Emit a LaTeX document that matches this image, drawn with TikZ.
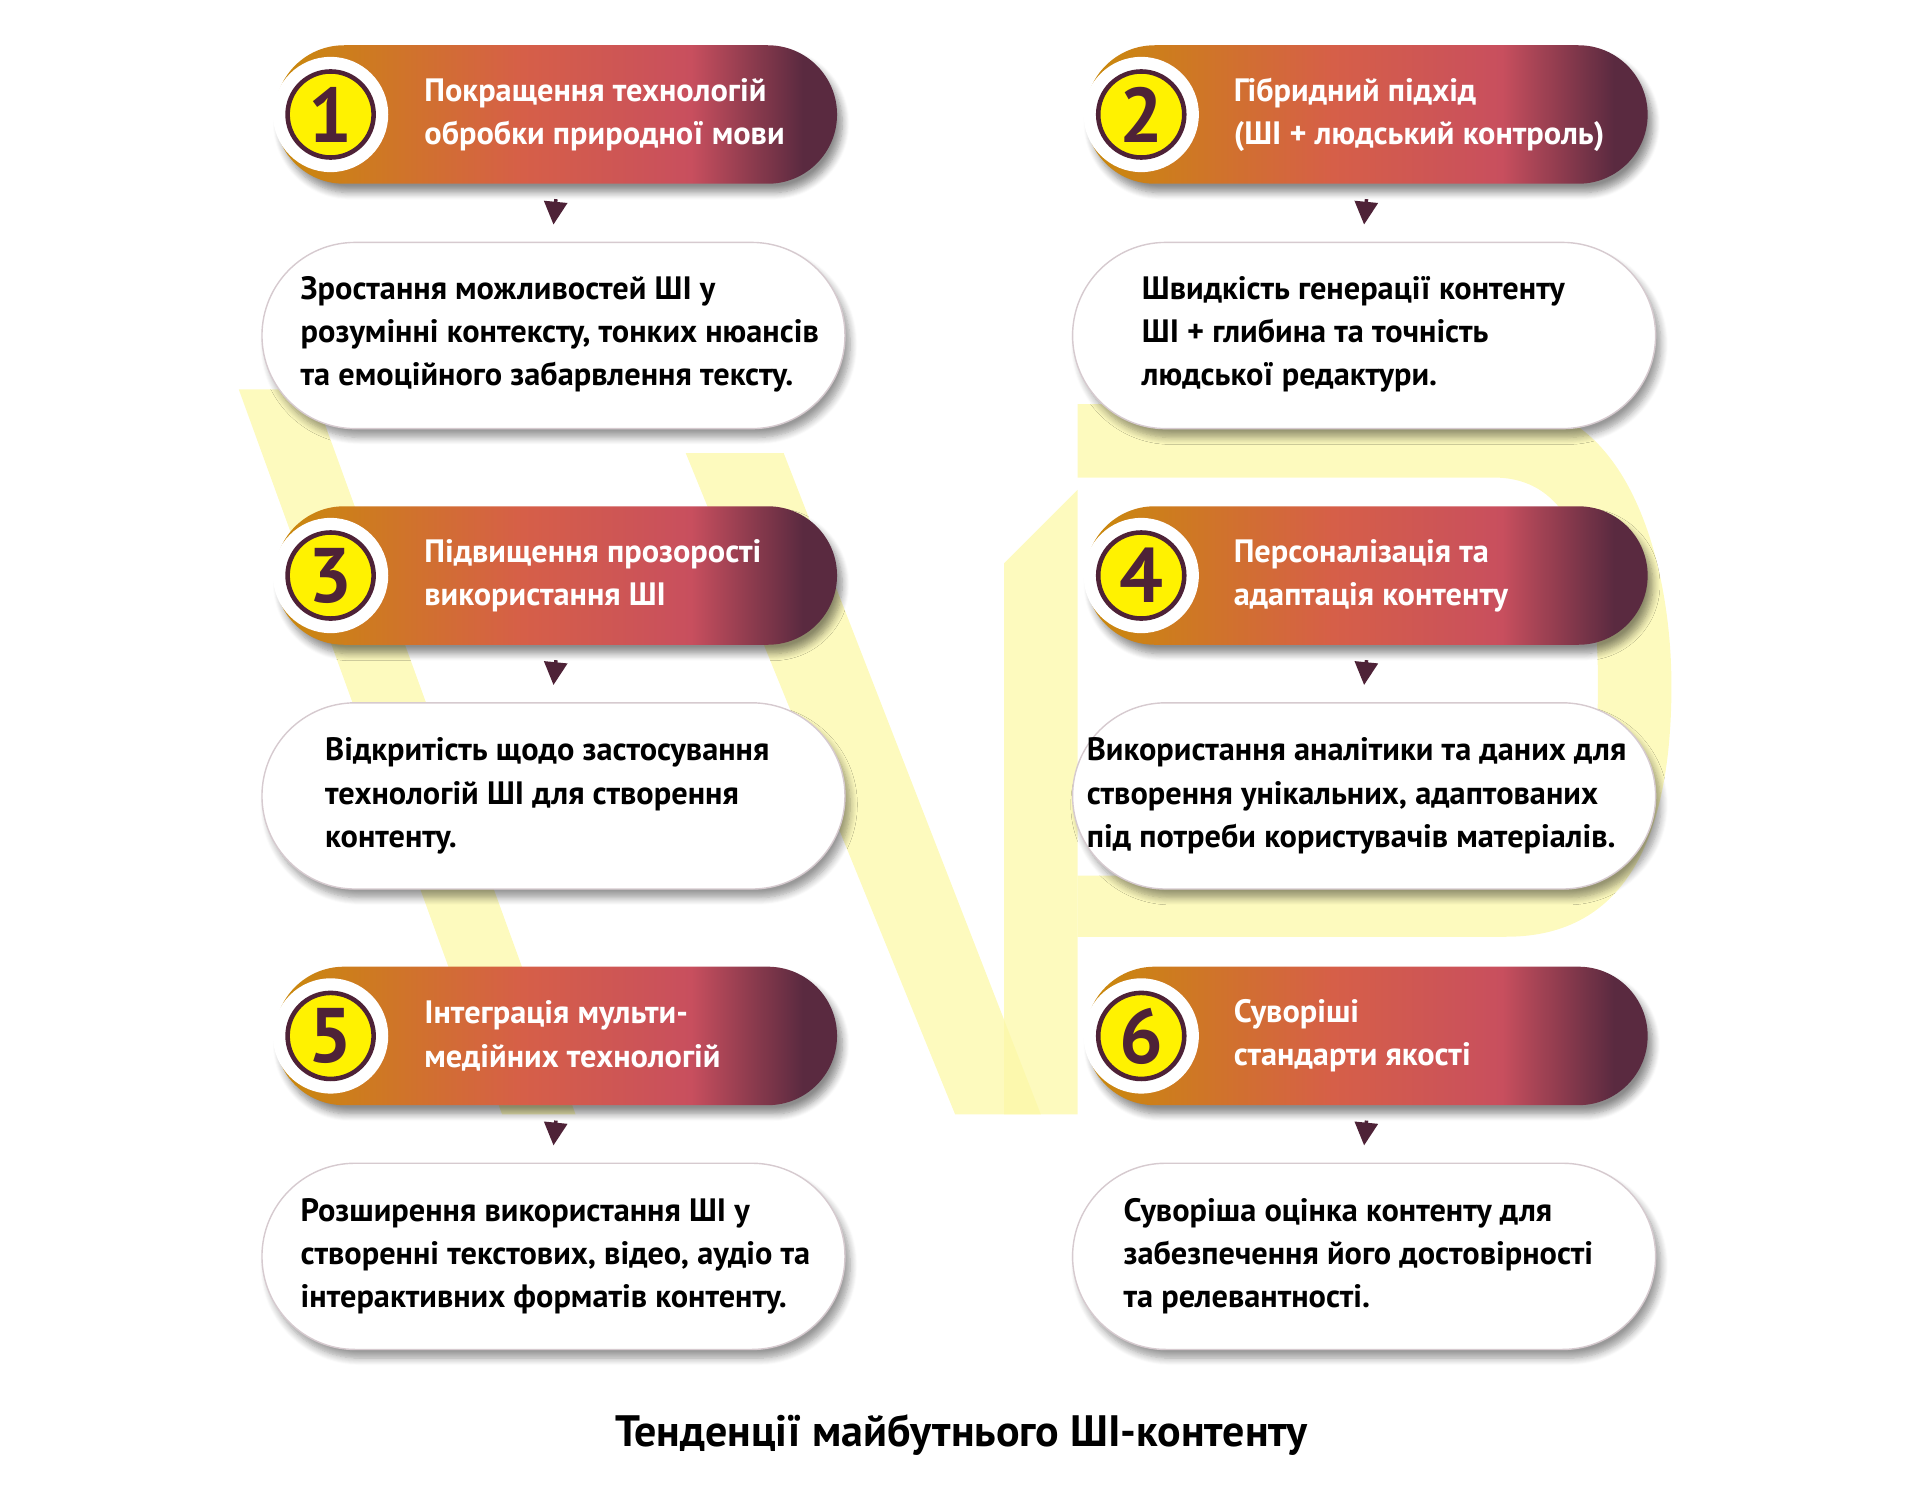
\documentclass[tikz,border=0pt]{standalone}
\usepackage{fontspec}
\setmainfont{PT Sans}
\usetikzlibrary{shapes.misc,shadows.blur,arrows.meta}
\definecolor{c1}{HTML}{C98A0A}
\definecolor{c2}{HTML}{D65F48}
\definecolor{c3}{HTML}{C84F5E}
\definecolor{c4}{HTML}{5A2A40}
\definecolor{maroon}{HTML}{4E2237}
\definecolor{pale}{HTML}{FCF8A8}
\pgfdeclarehorizontalshading{hdr}{100bp}{color(0bp)=(c1); color(25bp)=(c1); color(47bp)=(c2); color(62bp)=(c3); color(72bp)=(c4); color(100bp)=(c4)}
\tikzset{
 hdrbox/.style={rounded rectangle, minimum width=5.853cm, minimum height=1.384cm, shading=hdr, draw=none,
   blur shadow={shadow xshift=1.5pt, shadow yshift=-2.5pt, shadow opacity=45, shadow blur steps=8}},
 cntbox/.style={rounded rectangle, minimum width=6.061cm, minimum height=1.861cm, fill=white, draw=c4!25, line width=0.4pt,
   blur shadow={shadow xshift=1.5pt, shadow yshift=-2.5pt, shadow opacity=40, shadow blur steps=8}},
 ring/.style={circle, fill=white, minimum size=1.152cm, inner sep=0pt},
 numc/.style={circle, fill=yellow, draw=maroon, line width=1.3pt, minimum size=0.86cm, inner sep=0pt,
   font=\fontsize{22}{22}\selectfont\bfseries, text=maroon},
 htxt/.style={anchor=west, align=left, text=white, font=\fontsize{9.2}{12.3}\selectfont\bfseries, inner sep=0pt},
 ctxt/.style={anchor=west, align=left, text=black, font=\fontsize{9.2}{12.3}\selectfont\bfseries, inner sep=0pt},
 arr/.style={draw=maroon, line width=1pt, -{Triangle[width=6.5pt,length=6.5pt]}, color=maroon},
}
\begin{document}
\begin{tikzpicture}[x=0.012245cm,y=-0.012245cm]
\useasboundingbox (0,0) rectangle (1568,1225);
% background yellow shape
\begin{scope}[fill=pale, opacity=0.75]
\fill (195,318) -- (255,318) -- (470,910) -- (410,910) -- cycle;
\fill (560,370) -- (640,370) -- (850,910) -- (780,910) -- cycle;
\fill (820,460) -- (880,400) -- (880,910) -- (820,910) -- cycle;
\fill (880,330) -- (1230,330) .. controls (1330,330) and (1365,460) .. (1365,560)
   .. controls (1365,680) and (1330,765) .. (1230,765) -- (880,765) -- (880,715) -- (1220,715)
   .. controls (1290,715) and (1305,640) .. (1305,560) .. controls (1305,470) and (1290,390) .. (1220,390) -- (880,390) -- cycle;
\end{scope}
% headers
\node[hdrbox] (h1) at (454,93.5) {};
\node[hdrbox] (h2) at (1116,93.5) {};
\node[hdrbox] (h3) at (454,470) {};
\node[hdrbox] (h4) at (1116,470) {};
\node[hdrbox] (h5) at (454,846) {};
\node[hdrbox] (h6) at (1116,846) {};
% contents
\node[cntbox] (c1) at (452,274) {};
\node[cntbox] (c2) at (1114,274) {};
\node[cntbox] (c3) at (452,650) {};
\node[cntbox] (c4) at (1114,650) {};
\node[cntbox] (c5) at (452,1026) {};
\node[cntbox] (c6) at (1114,1026) {};
% circles
\foreach \n/\x/\y in {1/270/93.5,2/932/93.5,3/270/470,4/932/470,5/270/846,6/932/846}{
  \node[ring] (r\n) at (\x,\y) {};
  \node[numc] (n\n) at (\x,\y) {\n};
}
% header texts
\node[htxt] (t1) at (346,93.5) {Покращення технологій\\обробки природної мови};
\node[htxt] (t2) at (1007,93.5) {Гібридний підхід\\(ШІ + людський контроль)};
\node[htxt] (t3) at (346,470) {Підвищення прозорості\\використання ШІ};
\node[htxt] (t4) at (1007,470) {Персоналізація та\\адаптація контенту};
\node[htxt] (t5) at (346,846) {Інтеграція мульти-\\медійних технологій};
\node[htxt] (t6) at (1007,846) {Суворіші\\стандарти якості};
% content texts
\node[ctxt] (d1) at (245,273) {Зростання можливостей ШІ у\\розумінні контексту, тонких нюансів\\та емоційного забарвлення тексту.};
\node[ctxt] (d2) at (932,273) {Швидкість генерації контенту\\ШІ + глибина та точність\\людської редактури.};
\node[ctxt] (d3) at (265,650) {Відкритість щодо застосування\\технологій ШІ для створення\\контенту.};
\node[ctxt] (d4) at (887,650) {Використання аналітики та даних для\\створення унікальних, адаптованих\\під потреби користувачів матеріалів.};
\node[ctxt] (d5) at (245,1026) {Розширення використання ШІ у\\створенні текстових, відео, аудіо та\\інтерактивних форматів контенту.};
\node[ctxt] (d6) at (917,1026) {Суворіша оцінка контенту для\\забезпечення його достовірності\\та релевантності.};
% arrows
\foreach \i in {1,...,6}{
  \draw[arr] ([yshift=-0.147cm]h\i.south) -- ([yshift=0.171cm]c\i.north);
}
\node[font=\fontsize{12.5}{14}\selectfont\bfseries] (title) at (785,1172) {Тенденції майбутнього ШІ-контенту};
\end{tikzpicture}
\end{document}
